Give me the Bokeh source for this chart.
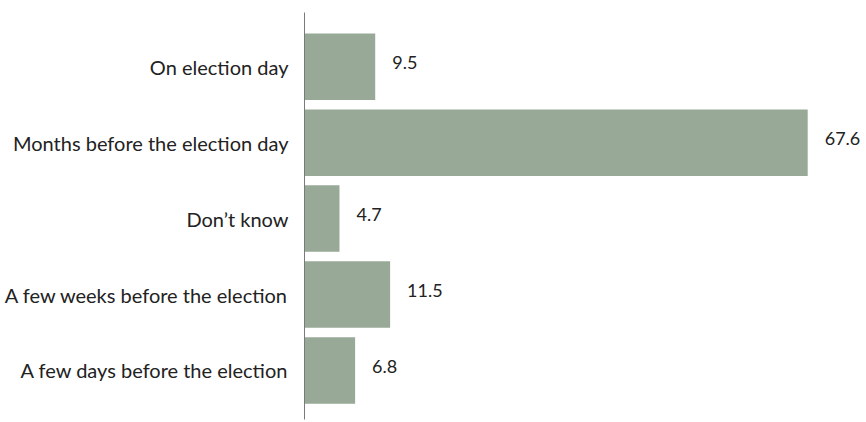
from bokeh.plotting import figure
from bokeh.models import ColumnDataSource, Range1d, FixedTicker
from bokeh.core.properties import value
from bokeh.embed import file_html
from bokeh.resources import INLINE

categories = ["On election day", "Months before the election day", "Don\u2019t know",
              "A few weeks before the election", "A few days before the election"]
values = [9.5, 67.6, 4.7, 11.5, 6.8]
value_labels = ["9.5", "67.6", "4.7", "11.5", "6.8"]

n = len(categories)
ypos = [n - i for i in range(n)]

src = ColumnDataSource(dict(cat=categories, val=values, lab=value_labels, y=ypos))

p = figure(width=866, height=422, output_backend="svg", toolbar_location=None,
           x_range=Range1d(0, 75.5), y_range=Range1d(0.354, 5.715),
           min_border_left=304, min_border_right=0, min_border_top=12,
           min_border_bottom=3)
p.outline_line_color = None
p.grid.visible = False
p.xaxis.visible = False
p.yaxis.ticker = FixedTicker(ticks=ypos)
p.yaxis.major_label_overrides = {y: c for y, c in zip(ypos, categories)}
p.yaxis.axis_line_color = "#7a7a7a"
p.yaxis.axis_line_width = 1
p.yaxis.major_tick_line_color = None
p.yaxis.minor_tick_line_color = None
p.yaxis.major_tick_out = 0
p.yaxis.major_tick_in = 0
p.yaxis.major_label_standoff = 16
p.yaxis.major_label_text_font = "Lato"
p.yaxis.major_label_text_font_size = "20px"
p.yaxis.major_label_text_color = "#222222"

p.hbar(y="y", left=0, right="val", height=0.876, source=src,
       fill_color="#98a997", line_color=None)

p.text(x="val", y="y", text="lab", source=src, x_offset=17, y_offset=-4,
       text_align="left", text_baseline="middle", text_font=value("Lato"),
       text_font_size="18px", text_color="#222222")

open("out.html", "w").write(file_html(p, INLINE))
